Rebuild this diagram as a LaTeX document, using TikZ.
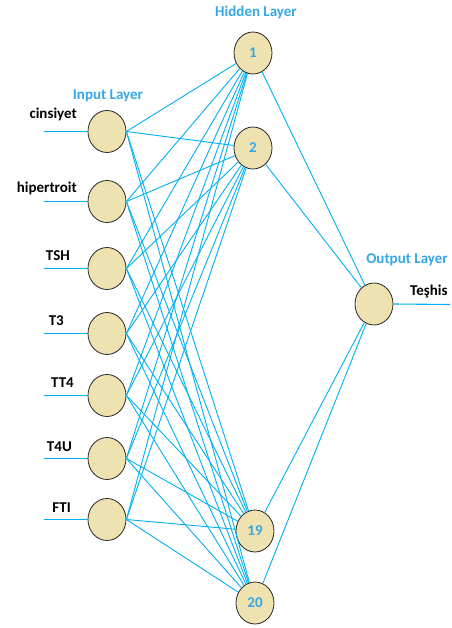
\documentclass[tikz,border=0pt]{standalone}
\usepackage{fontspec}
\setmainfont{Carlito}
\usetikzlibrary{shapes.geometric}
\definecolor{netblue}{RGB}{0,176,240}
\definecolor{titleblue}{RGB}{52,168,230}
\definecolor{neuronfill}{RGB}{238,226,176}
\tikzset{every node/.style={font=\bfseries\fontsize{15}{17}\selectfont},line cap=round,line join=round,
  neuron/.style={ellipse,draw=black!85,fill=neuronfill,line width=0.8pt,minimum width=38pt,minimum height=42pt,inner sep=0pt,text=titleblue},
  link/.style={draw=netblue,line width=0.9pt},
  layertitle/.style={text=titleblue}}

\begin{document}
\begin{tikzpicture}[x=1pt,y=-1pt]
  \path[use as bounding box] (0,0) rectangle (451,628);
  % hidden and output neurons
  \node[neuron] (h1) at (253,53) {1};
  \node[neuron] (h2) at (253,148) {2};
  \node[neuron] (h19) at (255,531) {19};
  \node[neuron] (h20) at (255,603) {20};
  \node[neuron] (out) at (374,304) {};
  % input neurons with their lines and names
  \foreach \n/\y/\lx/\dy in {cinsiyet/131/77/12,hipertroit/201/77/8,TSH/268/70/8,T3/333/64/8,TT4/395/74/8,T4U/458/72/7,FTI/519/71/7}{
    \node[neuron] (\n) at (107,\y+0.5) {};
    \coordinate (\n-in) at (44,\y+0.5);
    \draw[link,line width=1.1pt] (\n-in) -- (\n.west);
    \node[anchor=base east,inner sep=0pt] (\n-name) at (\lx,\y-\dy) {\n};
  }
  % connections
  \foreach \n in {cinsiyet,hipertroit,TSH,T3,TT4,T4U,FTI}
    \foreach \h in {h1,h2,h19,h20}
      \draw[link] (\n.east) -- (\h);
  \foreach \h in {h1,h2,h19,h20}
    \draw[link] (\h) -- (out);
  \coordinate (res) at (450,304.5);
  \draw[link,line width=1.1pt] (out.east) -- (res);
  \node[anchor=base west,inner sep=0pt] (teshis) at (410,295) {Teşhis};
  % layer titles
  \node[layertitle] (hiddentitle) at (256,12) {Hidden Layer};
  \node[layertitle] (inputtitle) at (108,96) {Input Layer};
  \node[layertitle] (outputtitle) at (407,260) {Output Layer};
\end{tikzpicture}
\end{document}
